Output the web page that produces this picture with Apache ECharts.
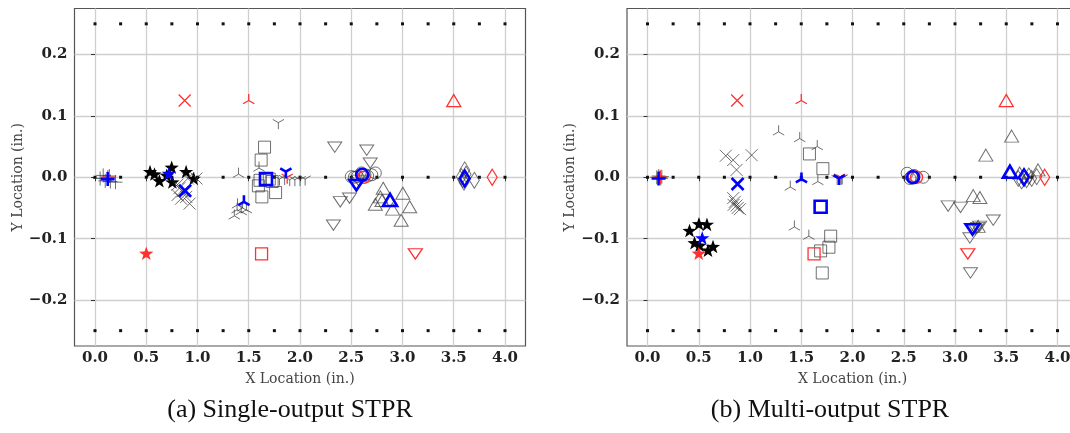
<!DOCTYPE html>
<html>
<head>
<meta charset="utf-8">
<script src="https://cdn.jsdelivr.net/npm/echarts@6/dist/echarts.min.js"></script>
<style>
  html, body { margin: 0; padding: 0; background: #fff; }
  #chart { width: 1070px; height: 433px; }
</style>
</head>
<body>
<div id="chart"></div>
<script>
// ticks + reference grid of sensor positions
const xTicks = [0, 0.5, 1, 1.5, 2, 2.5, 3, 3.5, 4]
const yTicks = [-0.2, -0.1, 0, 0.1, 0.2]
const refX = [0, 0.25, 0.5, 0.75, 1, 1.25, 1.5, 1.75, 2, 2.25, 2.5, 2.75, 3, 3.25, 3.5, 3.75, 4]
const refY = [0.25, 0, -0.25]

// true locations (red), one per marker type
const truth = [[0.125, 0], [0.5, -0.125], [0.875, 0.125], [1.5, 0.125], [1.625, -0.125],
  [1.875, 0], [2.625, 0], [3.125, -0.125], [3.5, 0.125], [3.875, 0]]

// (a) single-output estimates (grey) and mean (blue)
const plusA = [[0.05, -0.002], [0.08, 0.003], [0.1, -0.006], [0.14, 0.002], [0.15, -0.007], [0.2, -0.008]]
const starA = [[0.537, 0.008], [0.58, 0.004], [0.628, -0.007], [0.748, 0.015], [0.755, -0.009], [0.889, 0.008], [0.963, -0.003], [0.7, 0.002]]
const crossA = [[0.805, -0.012], [0.822, -0.018], [0.856, -0.023], [0.805, -0.029], [0.84, -0.035], [0.89, -0.032], [0.923, -0.043], [0.906, -0.002], [0.99, -0.002]]
const triUpA = [[1.386, -0.053], [1.359, -0.063], [1.426, -0.056], [1.477, -0.053], [1.44, -0.05], [1.39, -0.045], [1.4, 0.005], [1.6, 0.015]]
const squareA = [[1.654, 0.049], [1.621, 0.028], [1.594, -0.014], [1.628, -0.032], [1.762, -0.025], [1.728, -0.007], [1.7, -0.003], [1.61, -0.005]]
const triDownA = [[1.789, 0.089], [1.8, -0.003], [1.9, -0.004], [1.95, -0.004], [2.0, -0.004], [2.05, -0.003], [1.85, -0.002]]
const circleA = [[2.5, 0.001], [2.53, 0], [2.56, 0.001], [2.634, 0.004], [2.7, 0.004], [2.735, 0.007], [2.6, 0.007], [2.66, 0.002]]
const vA = [[2.339, 0.049], [2.326, -0.078], [2.393, -0.04], [2.483, -0.034], [2.651, 0.044], [2.685, 0.023], [2.57, -0.005]]
const upA = [[2.735, -0.044], [2.812, -0.018], [2.785, -0.032], [2.8, -0.038], [2.903, -0.052], [3.003, -0.026], [3.07, -0.048], [2.987, -0.07]]
const diamondA = [[3.574, 0.001], [3.59, -0.004], [3.607, 0.012], [3.62, 0.005], [3.701, -0.005], [3.6, -0.008]]
const meanA = [[0.124, -0.003], [0.72, 0.005], [0.879, -0.022], [1.453, -0.04], [1.668, -0.003],
  [1.862, 0.009], [2.607, 0.004], [2.55, -0.013], [2.879, -0.037], [3.607, -0.002]]

// (b) multi-output estimates and mean
const plusB = [[0.09, 0], [0.11, 0.002], [0.13, -0.002], [0.14, 0.001]]
const starB = [[0.41, -0.088], [0.502, -0.077], [0.58, -0.078], [0.459, -0.108], [0.508, -0.112], [0.59, -0.12], [0.639, -0.114]]
const crossB = [[0.764, 0.035], [0.836, 0.028], [1.016, 0.036], [0.869, 0.012], [0.836, -0.034], [0.852, -0.04], [0.869, -0.046], [0.902, -0.052], [0.88, -0.05], [0.84, -0.045]]
const triUpB = [[1.279, 0.074], [1.485, 0.063], [1.656, 0.05], [1.393, -0.016], [1.662, -0.007], [1.433, -0.081], [1.574, -0.096]]
const squareB = [[1.58, 0.038], [1.711, 0.014], [1.787, -0.096], [1.77, -0.114], [1.689, -0.12], [1.705, -0.156]]
const triDownB = [[1.85, -0.002], [1.89, -0.002], [1.9, -0.001]]
const circleB = [[2.533, 0.0065], [2.575, 0.001], [2.689, 0], [2.56, -0.002], [2.6, 0.003]]
const vB = [[2.933, -0.047], [3.054, -0.049], [3.373, -0.07], [3.145, -0.099], [3.151, -0.156], [3.22, -0.082], [3.24, -0.08], [3.2, -0.085]]
const upB = [[3.552, 0.067], [3.301, 0.036], [3.178, -0.03], [3.243, -0.033], [3.226, -0.08], [3.63, 0.007], [3.81, 0.012]]
const diamondB = [[3.617, -0.002], [3.699, -0.004], [3.748, -0.002], [3.797, 0.001], [3.65, -0.006], [3.72, 0.002]]
const meanB = [[0.108, -0.002], [0.534, -0.1], [0.879, -0.011], [1.502, -0.003], [1.689, -0.048],
  [1.869, -0.002], [2.591, 0], [3.171, -0.085], [3.536, 0.009], [3.673, 0]]

const captions = ['(a) Single-output STPR', '(b) Multi-output STPR']

// marker shapes, same order as truth
const markers = [
  { sym: 'path://M0,5L10,5M5,0L5,10', size: 14, kind: 'line' },
  { sym: 'path://M10,0L12.35,6.76L19.51,6.91L13.8,11.24L15.88,18.09L10,14L4.12,18.09L6.2,11.24L0.49,6.91L7.65,6.76ZM10,20', size: 15, kind: 'fill' },
  { sym: 'path://M0,0L10,10M10,0L0,10', size: 12, kind: 'line' },
  { sym: 'path://M5,5L5,0M5,5L0.67,7.5M5,5L9.33,7.5M5,10', size: 13, kind: 'line' },
  { sym: 'rect', size: 12, kind: 'hollow' },
  { sym: 'path://M5,5L5,10M5,5L0.67,2.5M5,5L9.33,2.5M5,0', size: 13, kind: 'line' },
  { sym: 'circle', size: 12, kind: 'hollow' },
  { sym: 'path://M0,0L10,0L5,8.66Z', size: [14, 12], kind: 'hollow' },
  { sym: 'triangle', size: [14, 12], kind: 'hollow' },
  { sym: 'diamond', size: [10, 16], kind: 'hollow' }
]

const estA = [plusA, starA, crossA, triUpA, squareA, triDownA, circleA, vA, upA, diamondA]
const estB = [plusB, starB, crossB, triUpB, squareB, triDownB, circleB, vB, upB, diamondB]

const roles = {
  est: { color: '#333', width: 1, opacity: 0.7, starFill: '#000' },
  truth: { color: '#ff3030', width: 1.3, opacity: 1 },
  mean: { color: '#0000ff', width: 2.6, opacity: 1 }
}

function markerSeries (panel, m, data, role) {
  const r = roles[role]
  let itemStyle
  if (m.kind === 'fill') {
    itemStyle = { color: r.starFill || r.color, opacity: 1 }
  } else {
    itemStyle = { color: 'rgba(0,0,0,0)', borderColor: r.color, borderWidth: r.width, opacity: r.opacity }
  }
  return {
    type: 'scatter',
    xAxisIndex: panel,
    yAxisIndex: panel,
    data: data,
    symbol: m.sym,
    symbolSize: m.size,
    symbolKeepAspect: true,
    itemStyle: itemStyle,
    silent: true
  }
}

const fmt = v => (v < -1e-9 ? '\u2212' : '') + Math.abs(v).toFixed(1)
const tickFont = { fontFamily: 'DejaVu Serif', fontWeight: 'bold', fontSize: 15, color: '#222' }
const nameFont = { fontFamily: 'DejaVu Serif', fontSize: 14, color: '#444' }
const gridLine = { show: true, lineStyle: { color: '#cfcfcf', width: 1.3 } }

let series = []
for (let p = 0; p < 2; p++) {
  const est = p === 0 ? estA : estB
  const mean = p === 0 ? meanA : meanB
  let refPts = []
  refY.forEach(y => refX.forEach(x => refPts.push([x, y])))
  series.push({
    type: 'scatter', xAxisIndex: p, yAxisIndex: p, silent: true,
    data: refPts, symbol: 'rect', symbolSize: 3,
    itemStyle: { color: '#111', opacity: 1 }
  })
  markers.forEach((m, i) => {
    series.push(markerSeries(p, m, est[i], 'est'))
  })
  markers.forEach((m, i) => {
    series.push(markerSeries(p, m, [truth[i]], 'truth'))
  })
  markers.forEach((m, i) => {
    series.push(markerSeries(p, m, [mean[i]], 'mean'))
  })
}

const gridLeft = [74.5, 627]
let option = {
  animation: false,
  backgroundColor: '#fff',
  grid: gridLeft.map(l => ({
    left: l, top: 8.5, width: 451, height: 337.5,
    outerBoundsMode: 'none',
    show: true, borderColor: '#555', borderWidth: 1.2, backgroundColor: 'transparent'
  })),
  xAxis: [0, 1].map(i => ({
    gridIndex: i, type: 'value', min: -0.2, max: 4.2,
    name: 'X Location (in.)', nameLocation: 'middle', nameGap: 26, nameTextStyle: nameFont,
    axisLine: { show: false },
    axisTick: { show: true, length: 4, customValues: xTicks, lineStyle: { color: '#333' } },
    axisLabel: Object.assign({ customValues: xTicks, formatter: fmt, margin: 5 }, tickFont),
    splitLine: gridLine
  })),
  yAxis: [0, 1].map(i => ({
    gridIndex: i, type: 'value', min: -0.275, max: 0.275,
    name: 'Y Location (in.)', nameLocation: 'middle', nameGap: 48, nameTextStyle: nameFont,
    axisLine: { show: false },
    axisTick: { show: true, length: 4, customValues: yTicks, lineStyle: { color: '#333' } },
    axisLabel: Object.assign({ customValues: yTicks, formatter: fmt, margin: 7 }, tickFont),
    splitLine: gridLine
  })),
  graphic: captions.map((t, i) => ({
    type: 'text', x: i === 0 ? 290 : 830, y: 410,
    style: { text: t, fontFamily: 'Liberation Serif', fontSize: 26, fill: '#111', align: 'center', verticalAlign: 'middle' }
  })),
  series: series
}

const myChart = echarts.init(document.getElementById('chart'), null, { renderer: 'canvas' })
myChart.setOption(option)
</script>
</body>
</html>
